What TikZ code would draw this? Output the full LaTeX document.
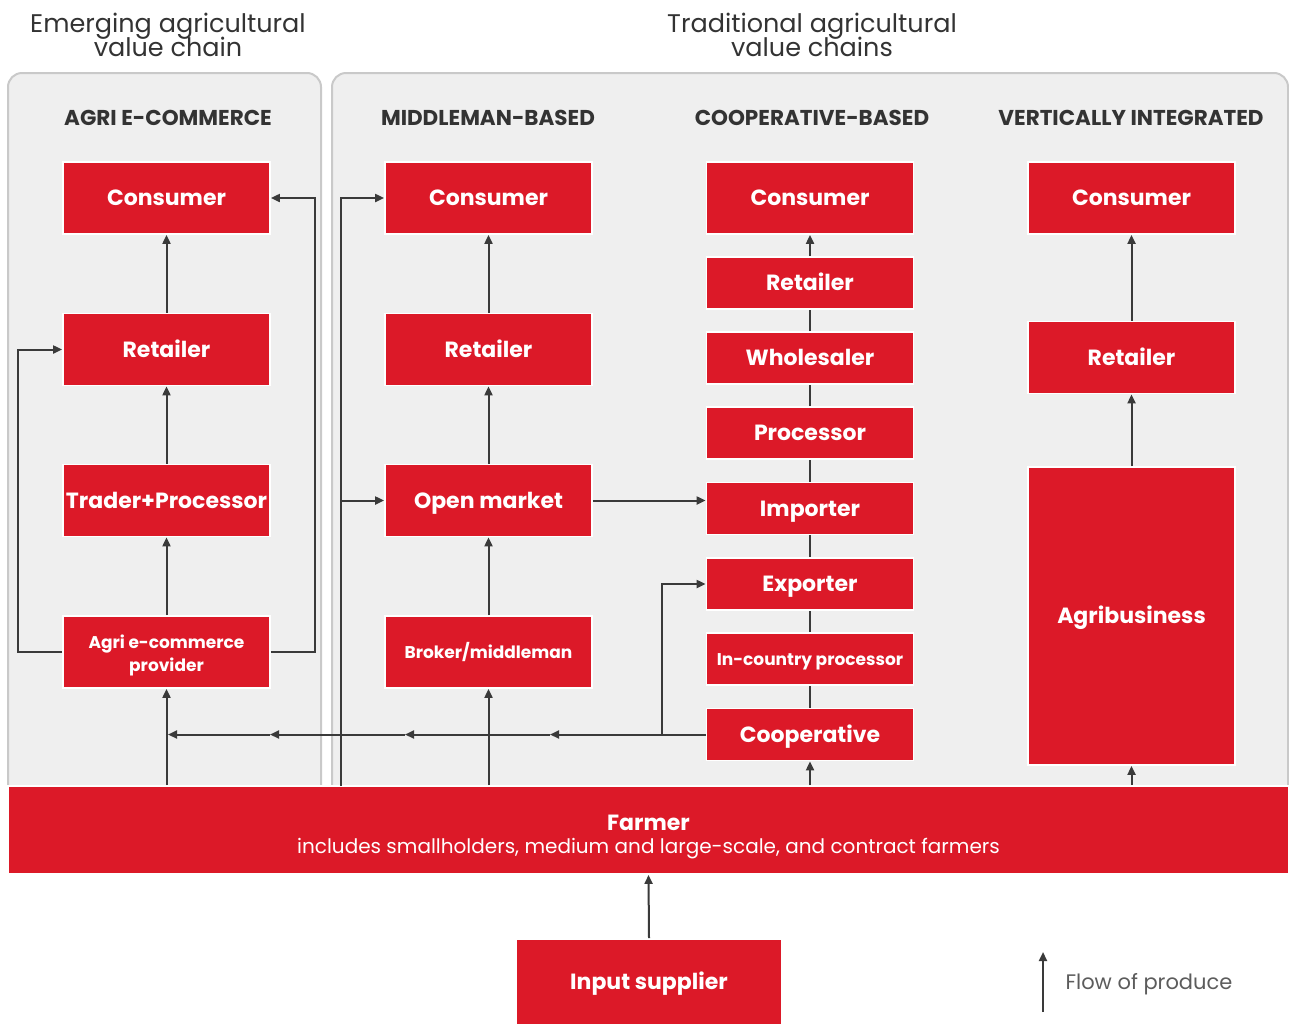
\documentclass[tikz,border=0pt]{standalone}
\usepackage{fontspec}
\setmainfont{Poppins}
\usetikzlibrary{arrows.meta}
\definecolor{cred}{HTML}{DC1928}
\definecolor{cpanel}{HTML}{EFEFEF}
\definecolor{cborder}{HTML}{C9C9C9}
\definecolor{carrow}{HTML}{3A3A3A}
\definecolor{ctext}{HTML}{333333}
\begin{document}
\begin{tikzpicture}[x=1pt,y=-1pt,
  box/.style={rectangle, fill=cred, draw=white, line width=1.8pt, text=white,
    font=\bfseries\fontsize{22}{26}\selectfont, minimum width=207pt, minimum height=72pt,
    inner sep=0pt, align=center, text height=15.5pt, text depth=0pt},
  sbox/.style={box, minimum height=52pt},
  small/.style={font=\bfseries\fontsize{17}{23}\selectfont, text height=12pt},
  twoline/.style={text height=38pt, text depth=0pt},
  arr/.style={draw=carrow, line width=2pt, -{Triangle[length=9pt,width=8pt]}},
  link/.style={draw=carrow, line width=2pt},
  panel/.style={draw=cborder, fill=cpanel, line width=2pt, rounded corners=14pt},
  colhead/.style={text=ctext, font=\bfseries\fontsize{21.5}{24}\selectfont},
  title/.style={text=ctext, align=center, font=\fontsize{25.5}{22}\selectfont}
]
\useasboundingbox (0,0) rectangle (1289,1023);
% panels
\path[panel] (8,73) rectangle (321,800);
\path[panel] (332,73) rectangle (1288,800);
% titles
\node[title] (t1) at (168,35) {Emerging agricultural\\[-3pt]value chain};
\node[title] (t2) at (812,35) {Traditional agricultural\\[-3pt]value chains};
% column headers
\node[colhead] (h1) at (168,118) {AGRI E-COMMERCE};
\node[colhead] (h2) at (488,118) {MIDDLEMAN-BASED};
\node[colhead] (h3) at (812,118) {COOPERATIVE-BASED};
\node[colhead] (h4) at (1131,118) {VERTICALLY INTEGRATED};
% agri e-commerce column
\node[box] (ac) at (166.5,198) {Consumer};
\node[box] (ar) at (166.5,349.5) {Retailer};
\node[box] (at) at (166.5,500.5) {Trader+Processor};
\node[box, small, twoline] (aa) at (166.5,652) {Agri e-commerce\\provider};
% middleman column
\node[box] (mc) at (488.5,198) {Consumer};
\node[box] (mr) at (488.5,349.5) {Retailer};
\node[box] (mo) at (488.5,500.5) {Open market};
\node[box, small] (mb) at (488.5,652) {Broker/middleman};
% cooperative column
\node[box] (cc) at (810,198) {Consumer};
\node[sbox] (cr) at (810,283) {Retailer};
\node[sbox] (cw) at (810,358) {Wholesaler};
\node[sbox] (cp) at (810,433) {Processor};
\node[sbox] (ci) at (810,508.5) {Importer};
\node[sbox] (ce) at (810,584) {Exporter};
\node[sbox, small] (cn) at (810,659) {In-country processor};
\node[sbox] (co) at (810,734.5) {Cooperative};
% vertically integrated column
\node[box] (vc) at (1131.5,198) {Consumer};
\node[box] (vr) at (1131.5,357.5) {Retailer};
\node[box, minimum height=298pt] (va) at (1131.5,616) {Agribusiness};
% farmer & input supplier
\node[rectangle, fill=cred, draw=white, line width=1.8pt, text=white, minimum width=1281pt,
  minimum height=88pt, inner sep=0pt, align=center, text height=47pt, text depth=0pt,
  font=\fontsize{20}{23}\selectfont] (fa) at (648.5,830)
  {{\bfseries\fontsize{22}{23}\selectfont Farmer}\\includes smallholders, medium and large-scale, and contract farmers};
\node[box, minimum width=266pt, minimum height=86pt] (is) at (649,982) {Input supplier};
% arrows: agri e-commerce
\draw[arr] (ar.north) -- (ac.south);
\draw[arr] (at.north) -- (ar.south);
\draw[arr] (aa.north) -- (at.south);
\draw[arr] (aa.south |- fa.north) -- (aa.south);
\draw[arr] (aa.west) -- ++(-44,0) |- (ar.west);
\draw[arr] (aa.east) -- ++(44,0) |- (ac.east);
% arrows: middleman
\draw[arr] (mr.north) -- (mc.south);
\draw[arr] (mo.north) -- (mr.south);
\draw[arr] (mb.north) -- (mo.south);
\draw[arr] (mb.south |- fa.north) -- (mb.south);
\coordinate (m1) at (341,786);
\draw[arr] (m1) |- (mc.west);
\draw[arr] (m1 |- mo.west) -- (mo.west);
\draw[arr] (mo.east) -- (mo.east -| ci.west);
% cooperative
\draw[arr] (cr.north) -- (cc.south);
\draw[link] (cw.north) -- (cr.south);
\draw[link] (cp.north) -- (cw.south);
\draw[link] (ci.north) -- (cp.south);
\draw[link] (ce.north) -- (ci.south);
\draw[link] (cn.north) -- (ce.south);
\draw[link] (co.north) -- (cn.south);
\draw[arr] (co.south |- fa.north) -- (co.south);
\coordinate (b1) at (662,734.5);
\coordinate (p1) at (550,734.5);
\coordinate (p2) at (405,734.5);
\coordinate (p3) at (270,734.5);
\coordinate (p4) at (168,734.5);
\draw[link] (co.west) -- (b1);
\draw[arr] (b1) |- (ce.west);
\draw[arr] (b1) -- (p1);
\draw[arr] (p1) -- (p2);
\draw[arr] (p2) -- (p3);
\draw[arr] (p3) -- (p4);
% vertically integrated
\draw[arr] (vr.north) -- (vc.south);
\draw[arr] (va.north) -- (vr.south);
\draw[arr] (va.south |- fa.north) -- (va.south);
% input supplier
\draw[arr] (is.north) -- (fa.south);
% legend
\coordinate (l1) at (1043,1012);
\coordinate (l2) at (1043,952);
\draw[arr] (l1) -- (l2);
\node[anchor=west, text=ctext!80, font=\fontsize{21}{24}\selectfont] (lg) at (1062,984) {Flow of produce};
\end{tikzpicture}
\end{document}
